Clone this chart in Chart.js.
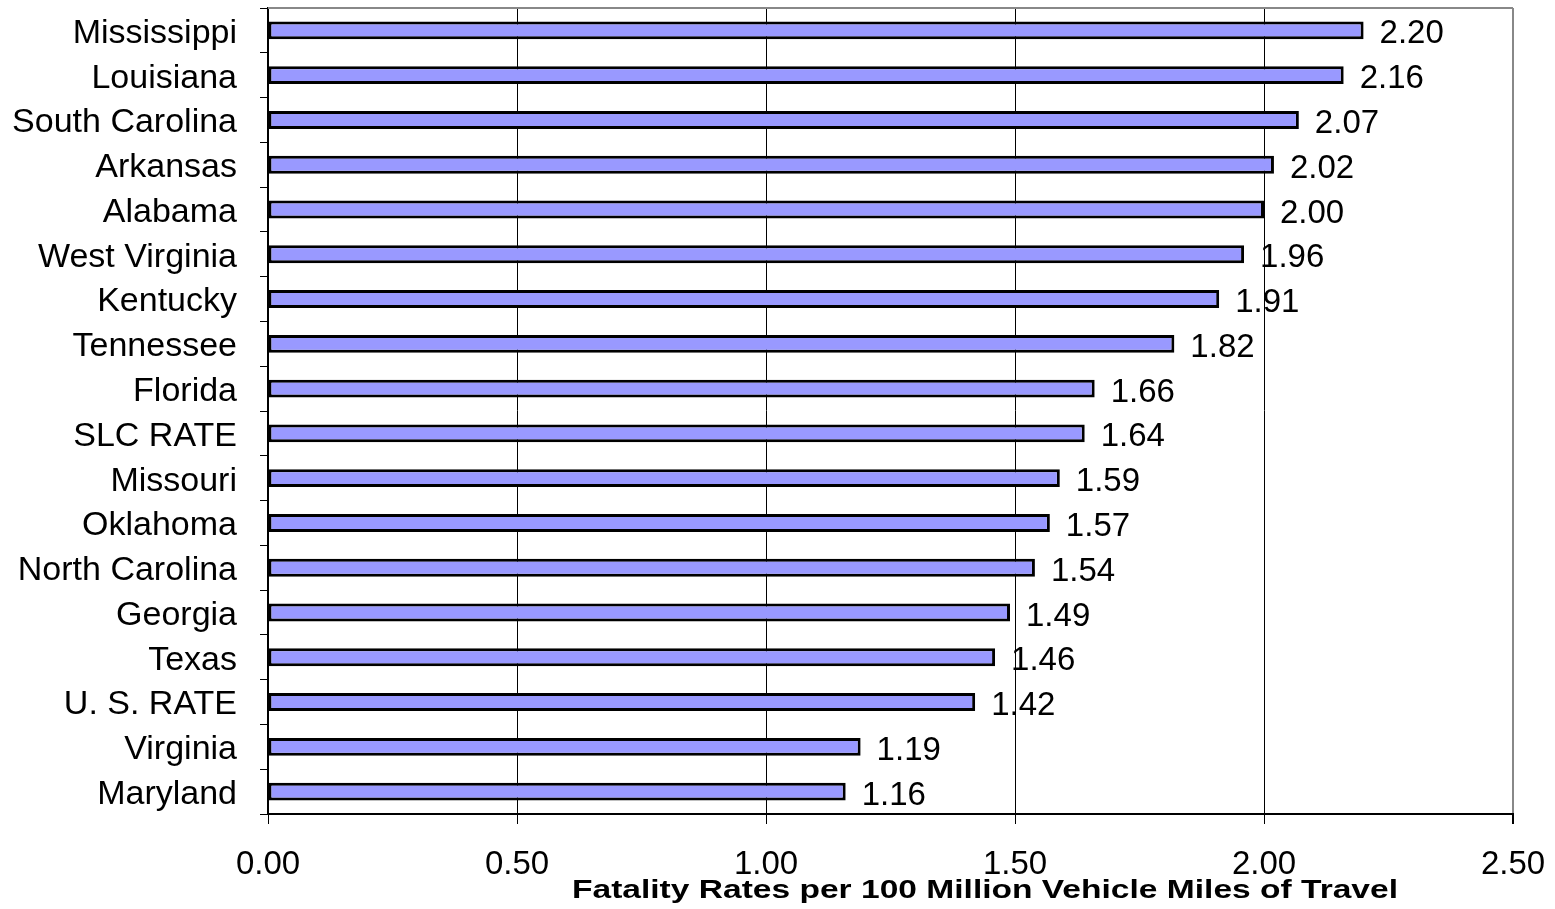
<!DOCTYPE html>
<html>
<head>
<meta charset="utf-8">
<title>Fatality Rates</title>
<script src="https://cdn.jsdelivr.net/npm/chart.js@4.4.0/dist/chart.umd.min.js"></script>
<style>
    html, body { margin: 0; padding: 0; background: #fff; }
    #wrap { width: 1555px; height: 909px; }
</style>
</head>
<body>
<div id="wrap"><canvas id="rateChart"></canvas></div>
<script>
'use strict';

// ── Data ─────────────────────────────────────────────
const states = [
    'Mississippi', 'Louisiana', 'South Carolina', 'Arkansas', 'Alabama',
    'West Virginia', 'Kentucky', 'Tennessee', 'Florida', 'SLC RATE',
    'Missouri', 'Oklahoma', 'North Carolina', 'Georgia', 'Texas',
    'U. S. RATE', 'Virginia', 'Maryland'
];
const rates = [
    2.20, 2.16, 2.07, 2.02, 2.00,
    1.96, 1.91, 1.82, 1.66, 1.64,
    1.59, 1.57, 1.54, 1.49, 1.46,
    1.42, 1.19, 1.16
];
const xMin = 0;
const xMax = 2.5;
const xStep = 0.5;
const axisTitle = 'Fatality Rates per 100 Million Vehicle Miles of Travel';

const FONT = 'Liberation Sans, Arial, sans-serif';

// ── Plugins ──────────────────────────────────────────
// value labels go under the grid, like the original
const valueLabels = {
    id: 'valueLabels',
    beforeDraw(chart) {
        const { ctx } = chart;
        const meta = chart.getDatasetMeta(0);
        ctx.save();
        ctx.font = `33px ${FONT}`;
        ctx.fillStyle = '#000';
        ctx.textAlign = 'left';
        ctx.textBaseline = 'middle';
        meta.data.forEach((bar, i) => {
            ctx.fillText(rates[i].toFixed(2), bar.x + 16, bar.y + 4);
        });
        ctx.restore();
    }
};

const frameAndTitle = {
    id: 'frameAndTitle',
    afterDraw(chart) {
        const { ctx, chartArea: a } = chart;
        ctx.save();
        ctx.strokeStyle = '#888';
        ctx.lineWidth = 2;
        ctx.beginPath();
        ctx.moveTo(a.left, a.top);
        ctx.lineTo(a.right, a.top);
        ctx.stroke();

        // the original title is drawn wide; stretch it to the same span
        ctx.font = `bold 25px ${FONT}`;
        ctx.fillStyle = '#000';
        ctx.textAlign = 'center';
        ctx.textBaseline = 'alphabetic';
        const w = ctx.measureText(axisTitle).width;
        ctx.translate(985, 898);
        ctx.scale(826 / w, 1);
        ctx.fillText(axisTitle, 0, 0);
        ctx.restore();
    }
};

// ── Bar Chart ────────────────────────────────────────
new Chart(document.getElementById('rateChart'), {
    type: 'bar',
    data: {
        labels: states,
        datasets: [{
            data: rates,
            backgroundColor: '#9999FF',
            borderColor: '#000',
            borderWidth: 3,
            borderSkipped: false,
            categoryPercentage: 1,
            barPercentage: 0.4
        }]
    },
    options: {
        indexAxis: 'y',
        responsive: true,
        maintainAspectRatio: false,
        animation: false,
        devicePixelRatio: 1,
        layout: { padding: { top: 8, right: 42, left: 0, bottom: 0 } },
        plugins: {
            legend: { display: false },
            tooltip: { enabled: false }
        },
        scales: {
            x: {
                type: 'linear',
                min: xMin,
                max: xMax,
                ticks: {
                    stepSize: xStep,
                    callback: (val) => Number(val).toFixed(2),
                    font: { family: FONT, size: 33 },
                    color: '#000',
                    padding: 21,
                    maxRotation: 0
                },
                grid: {
                    color: (ctx) => ctx.tick && ctx.tick.value === xMax ? '#888' : '#000',
                    lineWidth: (ctx) => ctx.tick && ctx.tick.value === xMax ? 2 : 1,
                    tickColor: '#000',
                    tickLength: 10
                },
                border: { color: '#000', width: 2 },
                afterFit: (scale) => {
                    scale.height = 95;
                    scale.paddingLeft = 0;
                    scale.paddingRight = 0;
                }
            },
            y: {
                type: 'category',
                ticks: {
                    font: { family: FONT, size: 34 },
                    color: '#000',
                    padding: 23,
                    labelOffset: 3
                },
                grid: {
                    drawOnChartArea: false,
                    color: '#000',
                    tickLength: 8,
                    offset: true
                },
                border: { color: '#000', width: 2 },
                afterFit: (scale) => {
                    scale.width = 268;
                    scale.paddingTop = 0;
                    scale.paddingBottom = 0;
                }
            }
        }
    },
    plugins: [valueLabels, frameAndTitle]
});
</script>
</body>
</html>
